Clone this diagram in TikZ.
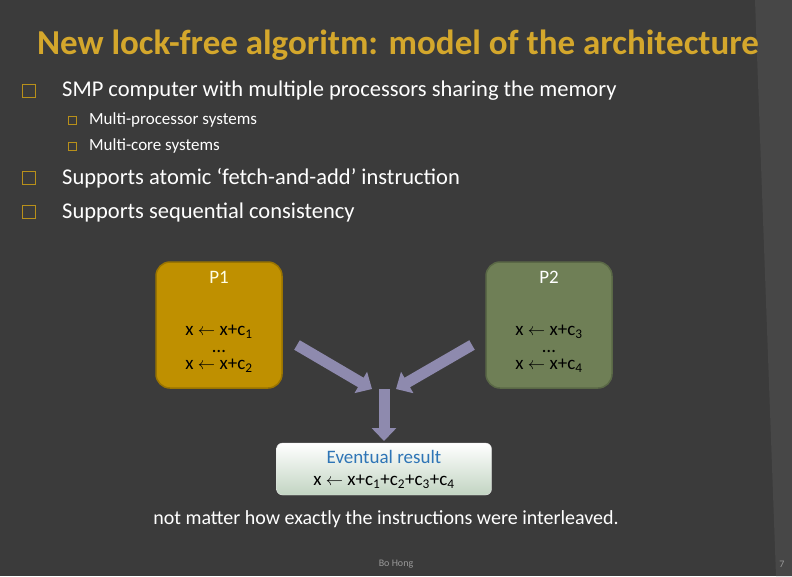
\documentclass[tikz,border=0pt]{standalone}
\usepackage{fontspec}
\setmainfont{Carlito}
\usetikzlibrary{arrows.meta}
\definecolor{bg}{HTML}{3B3B3B}
\definecolor{stripe}{HTML}{474747}
\definecolor{gold}{HTML}{D4A72C}
\definecolor{bulletc}{HTML}{B8901A}
\definecolor{pone}{HTML}{BF9000}
\definecolor{ponedk}{HTML}{9A7400}
\definecolor{ptwo}{HTML}{6F7F56}
\definecolor{ptwodk}{HTML}{5A6846}
\definecolor{arr}{HTML}{8E8AAE}
\definecolor{resblue}{HTML}{2E75B6}
\newcommand{\sbs}[1]{\textsubscript{#1}}
\tikzset{
 sq/.style={draw=bulletc, line width=1.5pt, minimum size=13pt, inner sep=0pt},
 sqs/.style={draw=bulletc, line width=0.8pt, minimum size=8pt, inner sep=0pt},
 main/.style={anchor=west, text=white, font=\fontsize{22.5}{26}\selectfont, inner sep=0pt},
 sub/.style={anchor=west, text=white, font=\fontsize{17}{19}\selectfont, inner sep=0pt},
 proc/.style={rounded corners=14pt, line width=1.5pt, minimum width=126pt, minimum height=126pt},
 ptxt/.style={font=\fontsize{19}{21}\selectfont, align=center},
 fat/.style={line width=11pt, draw=arr, -{Triangle[length=13pt,width=24pt]}},
}
\begin{document}
\begin{tikzpicture}[x=1pt,y=-1pt]
\fill[bg] (0,0) rectangle (792,576);
\fill[stripe] (755,0) -- (792,0) -- (792,576) -- (776,576) -- cycle;
\useasboundingbox (0,0) rectangle (792,576);
\node[text=gold, font=\bfseries\fontsize{35}{38}\selectfont] (title) at (398,45) {New lock-free algoritm: model of the architecture};
\node[sq] (b1) at (29,91) {}; \node[main] (t1) at (62,91) {SMP computer with multiple processors sharing the memory};
\node[sqs] (b1a) at (72,120) {}; \node[sub] (t1a) at (89,120) {Multi-processor systems};
\node[sqs] (b1b) at (72,146) {}; \node[sub] (t1b) at (89,146) {Multi-core systems};
\node[sq] (b2) at (29,178) {}; \node[main] (t2) at (62,178) {Supports atomic ‘fetch-and-add’ instruction};
\node[sq] (b3) at (29,212) {}; \node[main] (t3) at (62,212) {Supports sequential consistency};
\node[proc, fill=pone, draw=ponedk] (p1) at (219,325) {};
\node[ptxt, text=white!90!yellow] (p1l) at (219,277) {P1};
\node[ptxt] (p1c) at (219,349) {x $\leftarrow$ x+c\sbs{1}\\[-4pt]…\\[-4pt]x $\leftarrow$ x+c\sbs{2}};
\node[proc, fill=ptwo, draw=ptwodk] (p2) at (549,325) {};
\node[ptxt, text=white] (p2l) at (549,277) {P2};
\node[ptxt] (p2c) at (549,349) {x $\leftarrow$ x+c\sbs{3}\\[-4pt]…\\[-4pt]x $\leftarrow$ x+c\sbs{4}};
\node[rounded corners=6pt, draw=white!80!gray, top color=white, bottom color=black!10!green!20!gray!40, minimum width=215pt, minimum height=52pt] (res) at (384,469) {};
\node[ptxt, text=resblue] (resl) at (384,457) {Eventual result};
\node[ptxt] (resf) at (384,482) {x $\leftarrow$ x+c\sbs{1}+c\sbs{2}+c\sbs{3}+c\sbs{4}};
\coordinate (a1s) at (297,345); \coordinate (a1e) at (372,389);
\coordinate (a2s) at (472,345); \coordinate (a2e) at (396,389);
\coordinate (a3s) at (384,389); \coordinate (a3e) at (384,441);
\draw[fat] (a1s) -- (a1e);
\draw[fat] (a2s) -- (a2e);
\draw[fat] (a3s) -- (a3e);
\node[text=white, font=\fontsize{20}{22}\selectfont] (note) at (386,519) {not matter how exactly the instructions were interleaved.};
\node[text=gray!80, font=\fontsize{10}{11}\selectfont] (foot) at (396,564) {Bo Hong};
\node[text=gray!80, font=\fontsize{10}{11}\selectfont] (pg) at (782,564) {7};
\end{tikzpicture}
\end{document}
